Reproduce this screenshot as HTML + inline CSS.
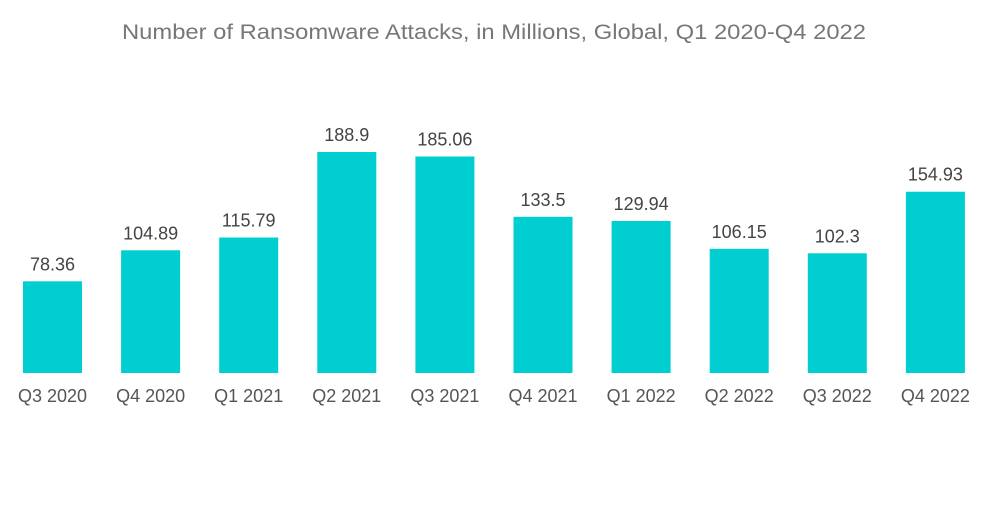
<!DOCTYPE html>
<html><head><meta charset="utf-8"><style>
body{margin:0;background:#fff;width:1000px;height:504px;overflow:hidden;font-family:"Liberation Sans",sans-serif}
</style></head><body>
<svg width="1000" height="504">
<text x="494" y="39" text-anchor="middle" font-size="21" textLength="744" lengthAdjust="spacingAndGlyphs" fill="#777">Number of Ransomware Attacks, in Millions, Global, Q1 2020-Q4 2022</text>
<g id="bars"></g>
</svg>
<script>
const categories=["Q3 2020","Q4 2020","Q1 2021","Q2 2021","Q3 2021","Q4 2021","Q1 2022","Q2 2022","Q3 2022","Q4 2022"];
const values=[78.36,104.89,115.79,188.9,185.06,133.5,129.94,106.15,102.3,154.93];
const labels=["78.36","104.89","115.79","188.9","185.06","133.5","129.94","106.15","102.3","154.93"];
const base=373, k=221/188.9, x0=52.5, step=98.1, bw=59;
const y=v=>base-v*k, x=i=>x0+i*step;
const g=document.getElementById('bars');
const ns="http://www.w3.org/2000/svg";
categories.forEach((c,i)=>{
 const r=document.createElementNS(ns,'rect');
 
 
 r.setAttribute('x',x(i)-bw/2);r.setAttribute('y',y(values[i]));
 r.setAttribute('width',bw);r.setAttribute('height',base-y(values[i]));
 r.setAttribute('fill','#00CED1');g.appendChild(r);
 const t=document.createElementNS(ns,'text');
 
 
 t.setAttribute('x',x(i));t.setAttribute('y',y(values[i])-11);
 t.setAttribute('text-anchor','middle');t.setAttribute('font-size','18');t.setAttribute('fill','#444');
 t.textContent=labels[i];g.appendChild(t);
 const a=document.createElementNS(ns,'text');
 
 
 a.setAttribute('x',x(i));a.setAttribute('y',402);
 a.setAttribute('text-anchor','middle');a.setAttribute('font-size','18');a.setAttribute('fill','#555');
 a.textContent=c;g.appendChild(a);
});
</script>
</body></html>
